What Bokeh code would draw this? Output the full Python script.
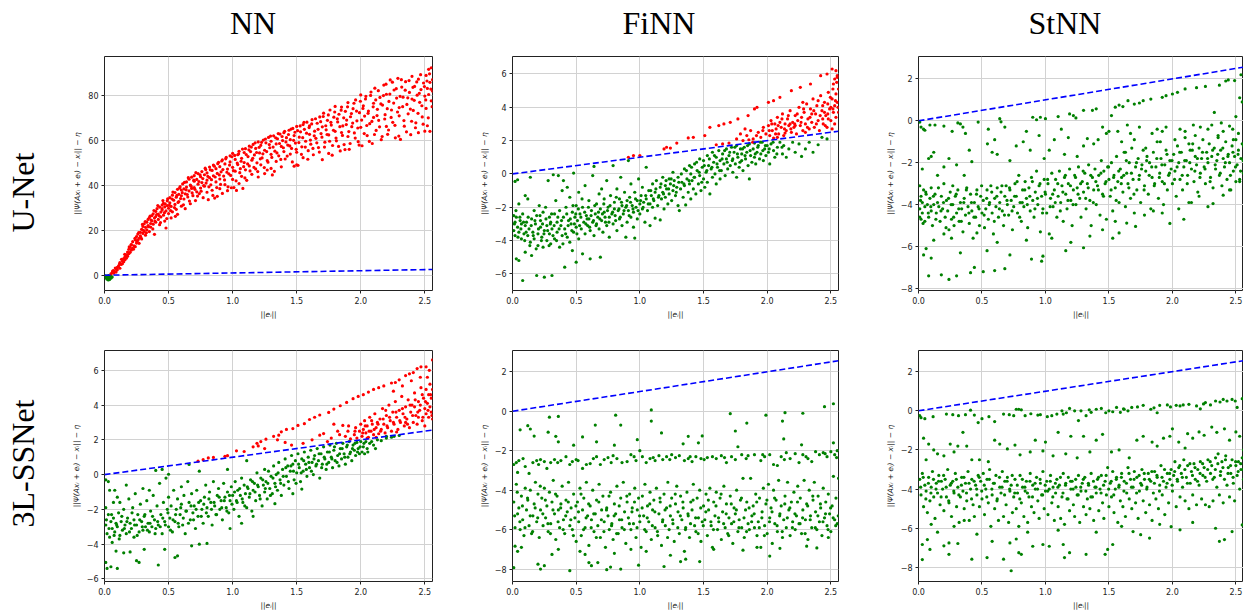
import math
from bokeh.plotting import figure
from bokeh.layouts import row, column
from bokeh.models import Range1d, Label, CustomJSTickFormatter
from bokeh.embed import file_html
from bokeh.resources import INLINE

# ---------------- data ----------------
col_titles = ["NN", "FiNN", "StNN"]
row_titles = ["U-Net", "3L-SSNet"]
x_ticks = [0.0, 0.5, 1.0, 1.5, 2.0, 2.5]
x_limits = (0.0, 2.56)
threshold_x = [0.0, 2.56]          # dashed reference line  y = ||e_i||
x_label = "||eᵢ||"
y_label = "||Ψ(Axᵢ + eᵢ) − xᵢ|| − η"

yticks_unet_nn = [0, 20, 40, 60, 80]
ylim_unet_nn = (-6.8, 97.3)
yticks_unet_finn = [-6, -4, -2, 0, 2, 4, 6]
ylim_unet_finn = (-7.0, 7.05)
yticks_unet_stnn = [-8, -6, -4, -2, 0, 2]
ylim_unet_stnn = (-8.1, 3.07)
yticks_ssnet_nn = [-6, -4, -2, 0, 2, 4, 6]
ylim_ssnet_nn = (-6.15, 7.14)
yticks_ssnet_finn = [-8, -6, -4, -2, 0, 2]
ylim_ssnet_finn = (-8.63, 3.08)
yticks_ssnet_stnn = [-8, -6, -4, -2, 0, 2]
ylim_ssnet_stnn = (-8.72, 3.08)

pts_unet_nn = [
(0.01,-0.3),(0.01,-1.2),(0.02,-0.7),(0.02,-1.8),(0.03,-1.5),(0.03,-0.2),(0.04,-1.0),(0.04,-1.9),(0.05,-0.5),(0.05,-1.3),(0.06,-0.8),(0.03,-2.1),
(0.05,0.6),(0.06,1.2),(0.07,0.9),(0.07,2.1),(0.08,1.6),(0.09,2.8),(0.09,1.4),(0.1,3.5),(0.1,2.4),
(0.11,4.2),(0.12,3.1),(0.12,5.6),(0.13,4.8),(0.14,6.3),(0.14,5.1),(0.15,7.4),(0.15,6.0),(0.16,8.2),(0.16,6.9),(0.17,9.1),(0.17,7.6),(0.18,8.4),(0.18,10.3),(0.19,9.6),(0.19,11.5),(0.2,10.2),(0.2,12.4),
(0.21,11.2),(0.21,13.6),(0.22,12.0),(0.22,14.9),(0.23,13.1),(0.24,15.8),(0.24,12.7),(0.25,14.3),(0.25,17.2),(0.26,15.6),(0.26,18.3),(0.27,16.4),(0.27,14.2),(0.28,19.1),(0.28,17.5),(0.29,20.4),(0.29,16.1),(0.3,18.6),(0.3,21.7),
(0.31,19.5),(0.31,22.9),(0.32,17.8),(0.32,21.3),(0.33,23.6),(0.33,20.2),(0.34,24.8),(0.34,22.1),(0.35,19.4),(0.35,25.6),(0.36,23.0),(0.36,21.4),(0.37,26.5),(0.37,24.2),(0.38,22.7),(0.38,27.3),(0.39,18.2),(0.39,25.4),(0.4,23.6),(0.4,28.4),(0.4,26.1),
(0.41,29.6),(0.42,24.8),(0.42,27.2),(0.43,30.3),(0.43,22.5),(0.44,28.1),(0.44,25.9),(0.45,31.2),(0.45,29.0),(0.46,26.7),(0.46,32.0),(0.47,24.1),(0.47,30.4),(0.48,21.0),(0.48,28.6),(0.49,33.1),(0.49,31.0),(0.5,27.4),(0.5,29.8),
(0.51,34.5),(0.51,32.2),(0.52,25.5),(0.52,30.6),(0.53,35.6),(0.53,28.2),(0.54,33.4),(0.55,36.8),(0.55,31.5),(0.56,29.3),(0.56,34.7),(0.57,38.2),(0.57,27.1),(0.58,36.0),(0.58,32.8),(0.59,39.4),(0.6,30.7),(0.6,35.3),(0.6,37.9),
(0.61,40.6),(0.62,33.9),(0.62,38.4),(0.63,29.6),(0.63,36.2),(0.64,41.5),(0.64,39.2),(0.65,34.8),(0.66,42.7),(0.66,37.5),(0.67,31.8),(0.67,40.1),(0.68,43.6),(0.68,38.6),(0.69,35.4),(0.7,41.8),(0.7,44.3),(0.7,39.0),
(0.71,33.2),(0.72,42.6),(0.72,37.1),(0.73,45.2),(0.73,40.5),(0.74,36.3),(0.75,43.8),(0.75,38.8),(0.76,46.1),(0.76,41.2),(0.77,34.5),(0.78,44.7),(0.78,39.6),(0.79,47.0),(0.8,42.3),(0.8,36.9),(0.8,45.5),
(0.81,33.6),(0.82,48.1),(0.82,43.4),(0.83,40.2),(0.84,46.6),(0.84,37.8),(0.85,49.0),(0.85,44.2),(0.86,34.3),(0.87,41.5),(0.87,47.4),(0.88,35.1),(0.88,45.3),(0.89,50.2),(0.9,42.8),(0.9,38.5),(0.9,48.3),
(0.91,46.0),(0.92,51.3),(0.92,36.4),(0.93,44.1),(0.94,49.5),(0.94,40.3),(0.95,52.4),(0.96,47.2),(0.96,37.6),(0.97,45.1),(0.98,53.1),(0.98,50.4),(0.99,38.9),(1.0,48.0),(1.0,54.2),(1.0,42.6),
(1.01,39.0),(1.02,51.5),(1.02,46.3),(1.03,37.7),(1.04,53.6),(1.04,49.2),(1.05,55.1),(1.05,40.8),(1.06,47.4),(1.07,52.0),(1.07,44.0),(1.08,38.6),(1.09,54.6),(1.09,50.1),(1.1,56.3),(1.1,46.9),
(1.11,42.2),(1.12,52.8),(1.13,57.4),(1.13,48.6),(1.14,55.0),(1.15,44.9),(1.15,51.2),(1.16,58.2),(1.17,53.5),(1.18,47.3),(1.18,56.4),(1.19,50.0),(1.2,59.3),(1.2,43.7),
(1.21,54.4),(1.22,57.8),(1.22,49.1),(1.23,52.2),(1.24,60.1),(1.25,45.2),(1.25,55.6),(1.26,58.9),(1.27,46.8),(1.27,51.0),(1.28,61.3),(1.29,56.7),(1.3,47.5),(1.3,53.8),(1.3,59.6),
(1.31,44.6),(1.32,62.0),(1.33,55.2),(1.34,58.4),(1.34,50.6),(1.35,60.7),(1.36,53.1),(1.37,62.8),(1.38,57.3),(1.38,48.2),(1.39,59.9),(1.4,55.0),(1.4,63.4),
(1.41,51.7),(1.42,61.2),(1.43,57.9),(1.44,64.5),(1.45,53.9),(1.45,60.3),(1.46,56.4),(1.47,65.3),(1.48,62.1),(1.48,48.5),(1.49,58.8),(1.5,49.1),(1.5,66.2),(1.5,54.7),
(1.51,48.9),(1.52,61.4),(1.53,63.8),(1.54,57.1),(1.55,67.0),(1.55,52.3),(1.56,64.9),(1.57,59.6),(1.58,68.1),(1.59,55.4),(1.6,62.7),(1.6,66.4),
(1.61,58.3),(1.62,69.2),(1.63,53.6),(1.64,64.1),(1.65,60.9),(1.66,67.6),(1.67,56.8),(1.68,70.4),(1.69,63.0),(1.7,51.4),(1.7,66.0),
(1.71,72.1),(1.72,59.2),(1.73,64.7),(1.74,68.9),(1.75,54.2),(1.75,62.4),(1.76,73.5),(1.77,66.8),(1.78,57.7),(1.79,70.3),(1.8,64.0),(1.8,75.1),
(1.81,59.8),(1.82,68.2),(1.83,71.6),(1.84,55.3),(1.85,63.5),(1.85,74.8),(1.86,66.4),(1.87,58.1),(1.88,72.9),(1.89,69.0),(1.9,61.7),(1.9,76.8),
(1.91,56.0),(1.92,70.5),(1.93,66.1),(1.94,74.1),(1.95,63.3),(1.96,78.0),(1.97,68.7),(1.98,59.4),(1.99,72.3),(2.0,80.2),(2.0,65.8),
(2.01,57.6),(2.02,75.4),(2.03,70.8),(2.04,79.6),(2.05,62.1),(2.06,73.0),(2.07,67.4),(2.08,81.5),(2.09,58.6),(2.1,76.5),(2.1,70.2),
(2.11,83.2),(2.12,64.4),(2.13,73.8),(2.14,68.9),(2.15,79.1),(2.16,60.3),(2.17,75.7),(2.18,84.6),(2.19,71.4),(2.2,66.2),(2.2,80.5),
(2.21,62.7),(2.22,77.3),(2.23,86.9),(2.24,73.5),(2.25,68.0),(2.26,82.4),(2.27,61.1),(2.28,78.8),(2.29,87.6),(2.3,74.6),(2.3,70.9),
(2.31,60.4),(2.32,83.7),(2.33,79.2),(2.34,66.3),(2.35,86.1),(2.36,76.0),(2.37,71.8),(2.38,81.3),(2.39,62.5),(2.4,78.4),(2.4,88.5),
(2.41,73.3),(2.42,84.0),(2.43,67.8),(2.44,80.1),(2.45,63.4),(2.45,87.2),(2.46,76.9),(2.47,82.6),(2.48,70.4),(2.49,85.5),(2.5,64.1),(2.5,79.7),
(2.51,88.9),(2.51,74.2),(2.52,83.1),(2.52,66.5),(2.53,91.6),(2.53,80.4),(2.54,85.8),(2.54,64.0),(2.55,77.6),(2.55,92.3),(2.56,81.9),(2.56,87.0),
]
pts_unet_nn_b = [
(0.063,1.8),(0.084,3.2),(0.117,5.0),(0.133,7.1),(0.158,9.3),(0.176,8.9),(0.193,12.6),(0.207,13.5),(0.226,11.6),(0.238,16.4),(0.253,15.1),(0.267,19.0),(0.284,16.8),(0.296,22.6),(0.304,20.0),(0.318,23.9),(0.327,18.9),(0.343,21.6),(0.356,26.3),(0.364,24.5),(0.377,20.6),(0.386,28.8),(0.394,24.0),(0.407,27.0),(0.416,31.0),(0.428,26.4),(0.437,23.4),(0.449,29.6),(0.456,33.2),(0.468,27.8),(0.474,31.7),(0.486,25.2),(0.493,34.0),
(0.507,31.1),(0.516,28.7),(0.527,33.9),(0.534,37.0),(0.546,30.1),(0.553,26.2),(0.565,35.5),(0.574,32.4),(0.586,38.8),(0.594,34.1),(0.607,36.7),(0.616,31.3),(0.624,41.3),(0.637,38.0),(0.646,35.9),(0.654,43.4),(0.663,33.0),(0.676,39.6),(0.684,36.6),(0.697,42.3),(0.706,38.2),(0.713,45.6),(0.726,35.2),(0.737,41.7),(0.746,44.6),(0.754,37.4),(0.767,43.0),(0.774,39.9),(0.786,47.6),(0.793,41.0),
(0.806,44.0),(0.815,39.3),(0.826,46.9),(0.835,42.5),(0.846,35.5),(0.857,48.5),(0.864,43.7),(0.876,39.0),(0.884,49.6),(0.896,44.6),(0.906,40.4),(0.915,50.8),(0.924,47.0),(0.937,42.4),(0.946,51.8),(0.955,45.8),(0.964,39.3),(0.976,49.0),(0.985,44.4),(0.994,52.7),(1.006,46.5),(1.016,53.3),(1.027,42.0),(1.036,49.9),(1.047,54.0),(1.056,45.6),(1.066,50.7),(1.077,56.1),(1.086,48.3),(1.096,43.3),
(1.106,53.7),(1.117,49.5),(1.127,55.8),(1.136,46.4),(1.146,57.0),(1.157,52.0),(1.166,48.0),(1.176,58.9),(1.187,54.6),(1.196,46.1),(1.207,56.9),(1.216,51.8),(1.226,59.1),(1.236,54.0),(1.247,47.9),(1.256,60.6),(1.266,55.0),(1.276,50.3),(1.286,58.1),(1.296,61.9),(1.306,52.4),(1.316,57.0),(1.326,46.2),(1.336,61.1),(1.346,54.4),(1.356,63.0),(1.366,58.6),(1.376,51.5),(1.386,61.7),(1.396,56.7),
(1.406,64.0),(1.416,59.3),(1.426,53.0),(1.436,62.6),(1.446,57.5),(1.456,65.0),(1.466,50.4),(1.476,60.0),(1.486,63.6),(1.496,56.0),(1.507,64.3),(1.517,59.0),(1.527,66.4),(1.537,53.8),(1.547,61.2),(1.557,68.0),(1.567,57.0),(1.577,63.2),(1.587,51.6),(1.597,65.7),(1.607,60.1),(1.617,67.3),(1.627,56.4),(1.637,62.0),(1.647,69.6),(1.657,58.9),(1.667,64.9),(1.677,54.8),(1.687,68.3),(1.697,61.4),
(1.707,70.6),(1.717,57.0),(1.727,66.5),(1.737,62.6),(1.747,71.3),(1.757,59.6),(1.767,68.0),(1.777,53.4),(1.787,64.5),(1.797,72.6),(1.807,61.0),(1.817,69.6),(1.827,57.3),(1.837,66.1),(1.847,73.4),(1.857,62.2),(1.867,70.0),(1.877,55.9),(1.887,67.0),(1.897,74.9),(1.907,63.9),(1.917,58.6),(1.927,71.9),(1.937,67.7),(1.947,76.5),(1.957,61.0),(1.967,73.0),(1.977,65.5),(1.987,57.9),(1.997,77.4),
(2.007,69.0),(2.017,74.2),(2.027,63.0),(2.037,78.4),(2.047,66.6),(2.057,72.0),(2.067,59.5),(2.077,80.0),(2.087,68.4),(2.097,74.9),(2.107,62.6),(2.117,78.0),(2.127,71.0),(2.137,82.1),(2.147,66.0),(2.157,76.2),(2.167,61.7),(2.177,79.9),(2.187,69.5),(2.197,85.0),(2.207,74.1),(2.217,64.6),(2.227,80.6),(2.237,70.2),(2.247,85.9),(2.257,76.6),(2.267,66.7),(2.277,83.0),(2.287,72.6),(2.297,61.9),
(2.307,79.6),(2.317,87.0),(2.327,75.0),(2.337,68.8),(2.347,82.3),(2.357,63.8),(2.367,78.9),(2.377,86.6),(2.387,73.9),(2.397,68.5),(2.407,83.6),(2.417,77.8),(2.427,65.6),(2.437,86.0),(2.447,72.0),(2.457,80.9),(2.467,89.2),(2.477,75.4),(2.487,67.2),(2.497,83.9),(2.507,78.0),(2.517,86.4),(2.527,70.0),(2.537,89.6),(2.547,82.8),(2.557,75.0),
]

pts_unet_finn = [
(0.01,-2.5),(0.01,-3.4),(0.02,-0.45),(0.02,-2.9),(0.02,-3.7),(0.03,-2.6),(0.03,-5.1),(0.04,-3.2),(0.04,-0.35),(0.05,-1.8),(0.05,-3.5),(0.05,-5.2),(0.06,-2.8),(0.07,-3.9),(0.07,-3.0),(0.08,-6.4),(0.08,-2.4),(0.09,-3.6),(0.1,-1.3),(0.1,-4.7),(0.1,-3.1),
(0.11,-2.9),(0.12,-3.7),(0.12,-1.5),(0.13,-3.3),(0.14,-0.2),(0.14,-4.1),(0.15,-2.7),(0.15,-4.9),(0.16,-3.5),(0.17,-2.2),(0.17,-3.9),(0.18,-3.0),(0.19,-6.1),(0.19,-2.5),(0.2,-3.6),(0.2,-4.3),(0.21,-1.9),(0.22,-3.2),(0.22,-2.8),(0.23,-3.8),(0.24,-4.4),(0.24,-2.3),(0.25,-6.2),(0.25,-3.4),(0.26,-2.0),(0.27,-3.1),(0.27,-4.0),(0.28,-0.4),(0.29,-2.6),(0.29,-3.6),(0.3,-4.2),(0.3,-2.9),
(0.31,-6.1),(0.31,-3.3),(0.32,-0.05),(0.33,-2.4),(0.33,-3.9),(0.34,-1.6),(0.35,-2.9),(0.35,-3.5),(0.36,-0.1),(0.37,-4.4),(0.37,-2.2),(0.38,-3.1),(0.39,-1.0),(0.39,-3.7),(0.4,-2.6),(0.4,-0.4),(0.41,-5.6),(0.41,-3.3),(0.42,-2.0),(0.43,-3.8),(0.43,-0.8),(0.44,-2.8),(0.45,-4.1),(0.45,-1.4),(0.46,-3.0),(0.47,-2.3),(0.47,-4.6),(0.48,0.05),(0.48,-3.5),(0.49,-2.6),(0.5,-5.3),(0.5,-3.2),(0.5,-1.9),
(0.51,-2.8),(0.52,-3.9),(0.52,-1.1),(0.53,-2.4),(0.54,-3.3),(0.55,-4.8),(0.55,-2.0),(0.56,-2.9),(0.57,-3.6),(0.57,-0.7),(0.58,-2.5),(0.59,-3.1),(0.6,-1.6),(0.6,-2.7),(0.61,-5.1),(0.61,-3.4),(0.62,-2.2),(0.63,-0.1),(0.63,-2.9),(0.64,0.45),(0.64,-3.7),(0.65,-2.4),(0.66,-1.8),(0.66,-3.0),(0.67,-2.6),(0.68,-3.3),(0.68,-1.2),(0.69,-5.0),(0.69,-2.1),(0.7,-2.8),(0.7,-0.9),
(0.71,-3.5),(0.72,-2.3),(0.72,-1.5),(0.73,-2.9),(0.74,-0.4),(0.74,-3.1),(0.75,-2.0),(0.76,-2.6),(0.76,-3.8),(0.77,-1.3),(0.78,-2.4),(0.79,0.5),(0.79,-3.0),(0.8,-2.1),(0.8,-1.7),(0.81,-2.8),(0.82,-3.4),(0.82,-0.9),(0.83,-2.2),(0.84,-1.5),(0.84,-2.7),(0.85,-0.2),(0.86,-3.1),(0.86,-1.9),(0.87,-2.4),(0.88,-1.1),(0.89,-3.8),(0.89,-2.0),(0.9,-1.6),(0.9,-2.9),
(0.91,0.8),(0.91,-2.2),(0.92,-1.4),(0.93,-2.6),(0.93,-0.6),(0.94,-1.9),(0.95,-2.3),(0.95,-3.2),(0.96,-3.85),(0.96,-1.1),(0.97,-2.0),(0.98,-1.6),(0.98,-2.7),(0.99,-0.3),(1.0,-1.8),(1.0,-2.4),(1.01,-1.3),(1.02,-2.1),(1.02,-0.8),(1.03,-1.7),(1.04,-2.9),(1.05,0.4),(1.05,-1.5),(1.06,-2.2),(1.07,-1.0),(1.08,-1.8),(1.08,-3.1),(1.09,-1.3),(1.1,-0.6),(1.1,-2.0),
(1.11,-1.6),(1.12,-2.66),(1.12,-1.1),(1.13,-0.4),(1.14,-1.9),(1.15,-1.3),(1.16,-2.76),(1.16,-0.8),(1.17,-1.5),(1.18,-0.2),(1.18,-1.1),(1.19,-2.1),(1.2,-0.7),(1.2,-1.4),(1.21,-0.9),(1.22,-1.8),(1.23,-0.3),(1.23,-1.2),(1.24,-0.6),(1.25,-1.6),(1.26,-1.0),(1.26,0.1),(1.27,-0.4),(1.28,-1.3),(1.29,-0.8),(1.3,-1.9),(1.3,-0.2),(1.31,-2.2),(1.32,-0.9),(1.33,-0.5),(1.34,-1.4),(1.35,0.3),(1.35,-0.7),(1.36,-1.86),(1.37,-0.3),(1.38,-1.1),(1.39,0.5),(1.39,-0.6),(1.4,-1.5),(1.4,0.0),
(1.41,-0.4),(1.42,-0.9),(1.43,0.6),(1.43,-0.2),(1.44,-1.2),(1.45,0.2),(1.46,-0.6),(1.47,0.9),(1.47,-0.1),(1.48,-1.0),(1.49,0.4),(1.5,-0.3),(1.5,0.8),(1.51,-0.8),(1.52,0.1),(1.53,1.1),(1.53,-0.5),(1.54,0.5),(1.55,-1.2),(1.56,0.3),(1.57,1.3),(1.57,-0.2),(1.58,0.7),(1.59,0.0),(1.6,1.0),(1.6,-0.6),(1.61,0.4),(1.62,1.4),(1.63,0.8),(1.63,-0.3),(1.64,0.2),(1.65,1.2),(1.66,0.6),(1.67,-0.1),(1.68,1.5),(1.68,0.9),(1.69,0.3),(1.7,1.1),
(1.71,0.5),(1.72,1.6),(1.73,0.1),(1.73,0.9),(1.74,1.3),(1.75,0.6),(1.76,1.7),(1.76,-0.2),(1.77,1.0),(1.78,0.4),(1.79,1.5),(1.8,0.8),(1.8,1.2),(1.81,0.2),(1.82,1.6),(1.83,0.9),(1.84,1.3),(1.85,0.5),(1.86,1.8),(1.86,-0.3),(1.87,1.1),(1.88,0.7),(1.89,1.5),(1.9,1.0),(1.9,1.85),
(1.91,0.6),(1.92,1.3),(1.93,1.7),(1.94,0.9),(1.95,1.2),(1.96,1.9),(1.97,0.8),(1.98,1.5),(1.99,1.1),(2.0,1.7),(2.01,1.3),(2.02,0.6),(2.03,1.8),(2.05,1.4),(2.06,1.0),(2.08,1.6),(2.1,1.9),(2.12,1.2),(2.13,1.7),(2.15,1.0),(2.17,1.5),(2.2,1.9),(2.22,1.3),(2.25,1.8),(2.27,1.05),(2.3,1.5),(2.33,1.9),(2.36,1.3),(2.4,1.75),(2.43,2.2),(2.47,2.1),
(0.91,1.0),(0.95,1.1),(1.0,1.1),(1.19,1.5),(1.21,1.6),(1.24,1.55),(1.29,1.85),(1.38,2.16),(1.42,2.2),(1.51,2.3),(1.55,2.8),(1.62,2.9),(1.66,3.0),(1.71,3.1),(1.77,3.3),(1.85,3.5),(1.9,3.9),(1.92,4.0),(2.01,4.3),(2.05,4.4),(2.1,4.6),(2.19,5.0),(2.26,5.2),(2.34,5.4),(2.42,5.9),(2.47,6.0),(2.51,6.3),(2.54,6.2),(2.55,5.8),
(1.6,1.75),(1.65,1.8),(1.7,1.85),(1.76,2.1),(1.79,2.4),(1.81,2.0),(1.84,2.3),(1.87,2.6),(1.89,2.1),(1.93,2.5),(1.95,2.2),(1.97,2.8),(1.99,2.4),
(2.01,2.9),(2.02,2.3),(2.03,3.2),(2.04,2.6),(2.05,2.15),(2.06,3.0),(2.07,2.7),(2.08,3.4),(2.09,2.4),(2.1,3.1),(2.11,2.8),(2.12,3.6),(2.13,2.3),(2.14,3.0),(2.15,2.6),(2.16,3.3),(2.17,2.9),(2.18,3.8),(2.19,2.5),(2.2,3.1),(2.21,2.8),(2.22,3.5),(2.23,2.4),(2.24,3.2),(2.25,4.0),(2.26,2.9),(2.27,3.4),(2.28,2.6),(2.29,3.7),(2.3,3.0),(2.31,4.2),(2.32,3.3),(2.33,2.7),(2.34,3.9),(2.35,3.1),(2.36,4.5),(2.37,2.8),(2.38,3.6),(2.39,4.1),(2.4,3.2),(2.41,2.6),(2.42,4.7),(2.43,3.8),(2.44,3.0),(2.45,4.3),(2.46,3.5),(2.47,2.8),(2.48,4.9),(2.49,3.9),(2.5,3.2),(2.51,4.5),(2.51,2.7),(2.52,3.7),(2.52,5.4),(2.53,4.1),(2.53,3.0),(2.54,4.8),(2.54,3.4),(2.55,5.9),(2.55,4.3),(2.56,3.7),(2.56,5.1),(2.5,4.0),(2.45,3.7),(2.4,4.4),(2.35,3.6),(2.3,2.5),(2.28,4.3),(2.22,2.9),(2.18,3.0),(2.14,2.45),(2.08,2.2),(2.48,3.3),(2.53,5.7),
]
pts_unet_finn_b = [
(0.015,-3.0),(0.027,-2.2),(0.043,-3.8),(0.058,-2.6),(0.066,-3.3),(0.087,-2.9),(0.096,-4.0),(0.107,-3.5),(0.123,-2.6),(0.136,-4.3),(0.147,-3.1),(0.163,-3.7),(0.176,-2.8),(0.186,-4.5),(0.204,-3.3),(0.216,-2.5),(0.227,-4.0),(0.236,-3.0),(0.247,-3.6),(0.263,-2.7),(0.276,-3.4),(0.287,-4.3),(0.297,-3.0),(0.307,-2.4),(0.318,-3.7),(0.327,-3.1),(0.346,-4.0),(0.356,-2.6),(0.366,-3.3),(0.385,-2.8),(0.396,-4.2),
(0.417,-3.6),(0.426,-2.4),(0.437,-3.1),(0.454,-2.7),(0.466,-3.4),(0.475,-1.9),(0.486,-3.0),(0.497,-2.4),(0.506,-3.6),(0.517,-2.1),(0.527,-3.1),(0.537,-2.6),(0.546,-1.5),(0.567,-2.3),(0.576,-3.0),(0.586,-2.7),(0.596,-2.0),(0.606,-3.2),(0.617,-2.5),(0.636,-2.8),(0.646,-1.9),(0.656,-3.1),(0.675,-2.3),(0.686,-2.7),(0.706,-2.4),(0.717,-1.8),(0.727,-2.6),(0.746,-2.2),(0.757,-2.9),(0.766,-1.9),(0.786,-2.3),
(0.806,-2.5),(0.815,-1.4),(0.836,-2.1),(0.846,-2.6),(0.856,-1.7),(0.876,-2.2),(0.896,-1.9),(0.916,-2.5),(0.927,-1.7),(0.946,-2.1),(0.966,-1.5),(0.986,-2.2),(1.006,-1.6),(1.026,-2.0),(1.046,-1.3),(1.066,-1.8),(1.086,-1.0),(1.106,-1.5),(1.126,-0.9),(1.146,-1.4),(1.166,-0.6),(1.186,-1.2),(1.206,-0.4),(1.226,-0.9),(1.246,-0.3),(1.266,-0.7),(1.286,-1.1),(1.306,-0.5),(1.326,0.0),(1.346,-0.6),
(1.366,0.2),(1.386,-0.4),(1.406,0.4),(1.426,-0.2),(1.446,0.7),(1.466,0.1),(1.486,-0.5),(1.506,0.5),(1.526,0.2),(1.546,0.9),(1.566,0.4),(1.586,1.1),(1.606,0.6),(1.626,0.2),(1.646,0.9),(1.666,1.4),(1.686,0.7),(1.706,1.3),(1.726,0.8),(1.746,1.6),(1.766,1.2),(1.786,0.7),(1.806,1.5),(1.826,1.1),(1.846,1.7),(1.866,1.4),(1.886,1.9),(1.906,1.2),(1.926,1.6),(1.946,1.9),(1.966,1.4),(1.986,1.7),(2.016,1.5),(2.046,1.9),(2.076,1.2),(2.116,1.6),
(2.016,2.6),(2.036,3.0),(2.066,2.4),(2.086,2.9),(2.116,3.3),(2.136,2.7),(2.166,3.5),(2.186,2.7),(2.216,3.0),(2.236,3.6),(2.266,3.1),(2.286,3.9),(2.316,2.8),(2.336,3.4),(2.366,3.8),(2.386,3.0),(2.416,3.5),(2.436,4.1),(2.456,2.9),(2.476,3.6),(2.496,4.6),(2.516,3.9),(2.536,4.4),(2.556,4.0),(2.516,5.1),(2.546,5.5),(2.476,4.2),(2.436,3.3),(1.856,2.05),(1.916,2.3),(1.966,2.6),(1.826,2.7),
]

pts_unet_stnn = [
(0.01,-0.06),(0.02,-0.3),(0.04,-0.4),(0.05,-0.45),(0.09,-0.2),(0.13,-0.2),(0.2,-0.25),(0.31,-0.1),(0.33,-0.15),(0.35,-0.3),(0.37,-0.6),(0.47,-0.06),(0.64,0.1),(0.65,-0.05),(0.9,0.17),(0.93,0.05),(0.96,0.17),(1.0,0.1),(1.1,0.2),(1.19,0.33),(1.22,0.25),(1.24,0.14),(1.3,0.5),(1.37,0.5),(1.4,0.57),(1.52,0.25),(1.55,0.65),(1.58,0.75),(1.61,0.68),(1.65,0.96),(1.7,0.8),(1.74,0.85),(1.77,0.96),(1.83,1.04),(1.92,1.12),(1.95,1.2),(2.0,1.28),(2.04,1.36),(2.1,1.52),(2.19,1.58),(2.26,1.64),(2.37,1.7),(2.42,1.9),(2.44,1.95),(2.49,1.92),(2.54,2.2),(2.53,1.1),(2.55,0.9),(2.5,0.2),(2.33,0.4),
(0.03,-2.3),(0.08,-1.8),(0.1,-1.7),(0.12,-1.5),(0.15,-2.6),(0.2,-2.2),(0.24,-1.8),(0.3,-2.1),(0.36,-2.6),(0.4,-1.4),(0.42,-1.95),(0.55,-0.4),(0.58,-1.5),(0.6,-0.9),(0.62,-1.6),(0.68,-0.3),(0.72,-1.9),(0.77,-1.2),(0.85,-0.5),(0.88,-1.4),(0.95,-0.7),(0.99,-1.8),(1.03,-1.4),(1.07,-0.9),(1.15,-1.6),(1.18,-0.8),(1.25,-1.7),(1.3,-1.2),(1.33,-0.85),(1.38,-1.1),(1.45,-0.3),(1.48,-0.6),(1.5,-0.5),(1.57,-0.5),(1.6,-1.0),(1.63,-1.5),(1.67,-0.6),(1.7,-0.9),(1.74,-0.3),(1.79,-1.3),(1.84,-0.6),(1.88,-0.4),(1.92,-0.5),(1.95,-0.3),(2.02,-0.9),(2.06,-0.4),(2.1,-0.5),(2.13,-1.1),(2.18,-0.7),(2.22,-0.3),(2.28,-0.4),(2.31,-0.2),(2.36,-0.8),(2.4,-0.5),(2.45,-0.25),(2.48,-0.9),(2.52,-0.6),(2.56,-1.2),
(0.01,-3.1),(0.01,-4.2),(0.02,-3.6),(0.02,-4.7),(0.03,-3.9),(0.03,-4.4),(0.04,-3.3),(0.05,-4.8),(0.05,-4.1),(0.06,-3.5),(0.07,-4.0),(0.08,-4.6),(0.09,-3.7),(0.1,-4.3),(0.1,-3.2),(0.11,-5.0),(0.12,-4.0),(0.13,-3.5),(0.14,-4.4),(0.15,-3.9),(0.16,-4.1),(0.17,-4.8),(0.18,-3.6),(0.19,-4.2),(0.2,-3.0),(0.21,-4.6),(0.22,-3.8),(0.23,-4.3),(0.24,-5.2),(0.25,-3.4),
(0.26,-4.7),(0.27,-3.1),(0.27,-4.0),(0.28,-5.0),(0.29,-3.6),(0.3,-4.4),(0.31,-3.3),(0.32,-4.8),(0.33,-3.9),(0.34,-4.2),(0.35,-5.3),(0.36,-3.7),(0.37,-4.5),(0.38,-3.2),(0.39,-4.1),(0.4,-4.9),(0.41,-3.5),(0.42,-4.3),(0.43,-5.6),(0.44,-3.9),(0.45,-4.6),(0.46,-3.3),(0.47,-4.1),(0.48,-5.0),(0.49,-3.6),(0.5,-4.4),
(0.51,-3.8),(0.52,-5.1),(0.53,-4.2),(0.54,-3.3),(0.55,-4.7),(0.56,-3.9),(0.57,-3.1),(0.58,-4.4),(0.59,-5.4),(0.6,-3.7),(0.61,-4.1),(0.62,-3.2),(0.63,-4.6),(0.64,-3.9),(0.65,-3.4),(0.66,-4.3),(0.67,-5.0),(0.68,-3.6),(0.69,-3.1),(0.7,-4.0),(0.71,-4.5),(0.72,-3.3),(0.73,-3.8),(0.74,-5.2),(0.75,-4.1),
(0.76,-3.0),(0.77,-3.6),(0.78,-4.4),(0.79,-2.6),(0.8,-3.9),(0.81,-4.8),(0.82,-3.3),(0.83,-4.1),(0.84,-2.9),(0.85,-3.7),(0.86,-5.1),(0.87,-3.2),(0.88,-4.3),(0.89,-2.7),(0.9,-3.8),(0.91,-4.6),(0.92,-3.4),(0.93,-2.4),(0.94,-4.0),(0.95,-3.1),(0.96,-5.3),(0.97,-3.6),(0.98,-4.2),(0.99,-2.8),(1.0,-3.5),
(1.01,-4.4),(1.02,-3.0),(1.03,-5.4),(1.04,-3.7),(1.05,-2.5),(1.06,-4.1),(1.07,-3.3),(1.08,-2.8),(1.09,-4.6),(1.1,-3.6),(1.11,-2.4),(1.12,-3.9),(1.13,-3.1),(1.14,-4.8),(1.15,-2.7),(1.16,-3.5),(1.17,-4.2),(1.18,-3.0),(1.19,-2.3),(1.2,-3.8),(1.21,-5.0),(1.22,-3.3),(1.23,-2.6),(1.24,-4.0),(1.25,-3.2),
(1.26,-2.2),(1.27,-3.7),(1.28,-4.6),(1.29,-2.9),(1.3,-3.4),(1.31,-2.5),(1.32,-4.2),(1.33,-3.0),(1.34,-2.1),(1.35,-3.8),(1.36,-5.0),(1.37,-2.7),(1.38,-3.3),(1.39,-2.3),(1.4,-4.0),(1.41,-3.1),(1.42,-2.6),(1.43,-4.5),(1.44,-1.9),(1.45,-3.5),(1.46,-2.4),(1.47,-3.0),(1.48,-4.7),(1.49,-2.2),(1.5,-2.8),
(1.51,-3.6),(1.52,-2.0),(1.53,-4.3),(1.54,-2.6),(1.55,-3.2),(1.56,-1.7),(1.57,-2.9),(1.58,-3.9),(1.59,-2.3),(1.6,-2.7),(1.61,-3.4),(1.62,-1.5),(1.63,-4.1),(1.64,-2.5),(1.65,-3.0),(1.66,-2.0),(1.67,-3.7),(1.68,-1.3),(1.69,-2.8),(1.7,-4.4),(1.71,-2.2),(1.72,-3.3),(1.73,-1.8),(1.74,-2.6),(1.75,-3.9),
(1.76,-2.1),(1.77,-1.4),(1.78,-3.1),(1.79,-2.4),(1.8,-1.7),(1.81,-3.5),(1.82,-2.0),(1.83,-4.2),(1.84,-2.7),(1.85,-1.5),(1.86,-3.0),(1.87,-2.2),(1.88,-1.0),(1.89,-3.7),(1.9,-2.5),(1.91,-1.8),(1.92,-2.9),(1.93,-4.0),(1.94,-2.1),(1.95,-1.4),(1.96,-3.3),(1.97,-2.6),(1.98,-1.9),(1.99,-2.3),(2.0,-3.0),
(2.01,-1.6),(2.02,-2.4),(2.03,-3.6),(2.04,-1.2),(2.05,-2.0),(2.06,-2.8),(2.07,-1.5),(2.08,-3.3),(2.09,-2.2),(2.1,-0.8),(2.11,-1.9),(2.12,-2.6),(2.13,-3.9),(2.14,-1.4),(2.15,-2.3),(2.16,-1.1),(2.17,-2.9),(2.18,-1.7),(2.19,-2.1),(2.2,-3.4),(2.21,-1.3),(2.22,-2.5),(2.23,-1.8),(2.24,-0.9),(2.25,-2.2),
(2.26,-3.0),(2.27,-1.5),(2.28,-2.0),(2.29,-1.1),(2.3,-2.7),(2.31,-1.7),(2.32,-3.2),(2.33,-1.3),(2.34,-2.3),(2.35,-1.9),(2.36,-0.7),(2.37,-2.6),(2.38,-1.4),(2.39,-3.1),(2.4,-1.8),(2.41,-2.2),(2.42,-1.0),(2.43,-2.8),(2.44,-1.6),(2.45,-2.0),(2.46,-3.3),(2.47,-1.2),(2.48,-2.4),(2.49,-1.7),(2.5,-0.9),(2.51,-2.1),(2.52,-1.4),(2.53,-2.9),(2.54,-1.8),(2.55,-1.1),(2.56,-2.5),
(0.01,-4.6),(0.04,-6.4),(0.06,-6.1),(0.08,-7.4),(0.1,-6.55),(0.12,-5.7),(0.18,-7.35),(0.2,-5.4),(0.24,-7.57),(0.26,-5.6),(0.3,-7.4),(0.33,-6.3),(0.41,-7.25),(0.44,-7.0),(0.46,-5.35),(0.51,-7.2),(0.54,-6.2),(0.6,-7.15),(0.62,-5.8),(0.68,-7.06),(0.72,-6.4),(0.85,-5.7),(0.89,-6.6),(0.97,-6.7),(0.98,-6.46),(1.05,-5.6),(1.16,-6.2),(1.2,-5.8),(1.3,-6.06),(1.35,-5.5),(1.45,-5.2),(1.53,-5.6),(1.55,-4.8),(1.58,-5.35),(1.64,-4.88),(1.71,-5.04),(1.78,-4.5),(1.85,-4.3),(1.92,-4.4),(1.98,-4.9),(2.05,-4.2),(2.09,-4.7),(2.15,-3.9),(2.21,-3.6),(2.28,-4.1),(2.32,-3.95),(2.4,-3.55),(2.45,-3.3),(2.5,-2.9),(2.53,-2.8),
]
pts_unet_stnn_b = [
(0.016,-3.8),(0.036,-4.9),(0.057,-3.4),(0.077,-4.4),(0.097,-4.1),(0.117,-3.6),(0.137,-4.7),(0.157,-3.2),(0.177,-4.3),(0.197,-3.9),(0.217,-5.1),(0.237,-3.7),(0.257,-4.0),(0.277,-4.6),(0.297,-3.5),(0.317,-4.2),(0.337,-4.8),(0.357,-3.9),(0.377,-3.3),(0.397,-4.4),(0.417,-3.9),(0.437,-4.6),(0.457,-3.5),(0.477,-4.2),(0.497,-3.1),(0.517,-4.5),(0.537,-3.7),(0.557,-4.0),(0.577,-3.4),(0.597,-4.8),
(0.617,-3.6),(0.637,-4.2),(0.657,-3.1),(0.677,-4.5),(0.697,-3.8),(0.717,-3.2),(0.737,-4.3),(0.757,-3.6),(0.777,-2.9),(0.797,-4.6),(0.817,-3.9),(0.837,-3.3),(0.857,-4.0),(0.877,-3.6),(0.897,-2.9),(0.917,-4.2),(0.937,-3.7),(0.957,-3.0),(0.977,-4.4),(0.997,-3.4),(1.017,-2.8),(1.037,-4.1),(1.057,-3.5),(1.077,-3.9),(1.097,-3.0),(1.117,-4.3),(1.137,-3.4),(1.157,-2.6),(1.177,-3.8),(1.197,-3.1),
(1.217,-4.0),(1.237,-2.7),(1.257,-3.5),(1.277,-3.0),(1.297,-2.4),(1.317,-3.7),(1.337,-3.2),(1.357,-2.6),(1.377,-3.9),(1.397,-2.9),(1.417,-3.3),(1.437,-2.5),(1.457,-3.6),(1.477,-2.9),(1.497,-2.2),(1.517,-3.3),(1.537,-2.7),(1.557,-3.8),(1.577,-2.4),(1.597,-3.0),(1.617,-2.6),(1.637,-1.9),(1.657,-3.2),(1.677,-2.5),(1.697,-3.5),(1.717,-2.0),(1.737,-2.8),(1.757,-2.3),(1.777,-3.3),(1.797,-1.9),
(1.817,-2.6),(1.837,-2.2),(1.857,-3.1),(1.877,-1.8),(1.897,-2.7),(1.917,-2.1),(1.937,-3.0),(1.957,-1.6),(1.977,-2.5),(1.997,-1.9),(2.017,-2.8),(2.037,-2.2),(2.057,-1.5),(2.077,-2.6),(2.097,-1.9),(2.117,-3.0),(2.137,-2.0),(2.157,-1.4),(2.177,-2.4),(2.197,-1.8),(2.217,-2.7),(2.237,-1.5),(2.257,-2.3),(2.277,-1.8),(2.297,-2.9),(2.317,-1.4),(2.337,-2.1),(2.357,-1.6),(2.377,-2.5),(2.397,-1.3),
(2.417,-2.0),(2.437,-1.7),(2.457,-2.6),(2.477,-1.5),(2.497,-2.2),(2.517,-1.6),(2.537,-2.4),(2.557,-1.9),
(0.265,-0.5),(0.543,-1.1),(0.825,-1.0),(1.125,-0.4),(1.415,-0.9),(1.645,-0.2),(1.905,-1.0),(2.165,-0.2),(2.385,-0.1),(2.475,-0.4),
]

pts_ssnet_nn = [
(0.01,-0.3),(0.01,-1.9),(0.01,-2.9),(0.01,-5.05),(0.02,-3.4),(0.02,-5.4),(0.03,-0.4),(0.03,-2.3),(0.04,-3.6),(0.04,-0.9),(0.05,-5.3),(0.05,-2.7),(0.06,-3.1),(0.06,-3.9),(0.07,-1.6),(0.07,-2.5),(0.08,-3.3),(0.08,-0.9),(0.09,-4.4),(0.09,-2.8),(0.1,-5.4),(0.1,-3.0),(0.1,-1.3),
(0.11,-2.2),(0.12,-3.5),(0.12,-1.6),(0.13,-2.7),(0.14,-3.2),(0.15,-4.5),(0.15,-2.0),(0.16,-2.9),(0.17,-0.6),(0.17,-3.4),(0.18,-2.5),(0.19,-1.4),(0.2,-4.45),(0.2,-2.8),(0.21,-3.1),(0.22,-1.9),(0.23,-2.6),(0.23,-3.6),(0.24,-1.1),(0.25,-4.95),(0.25,-2.9),(0.26,-2.3),(0.27,-5.05),(0.27,-3.3),(0.28,-1.7),(0.29,-2.7),(0.3,-3.2),(0.3,-0.8),
(0.31,-4.3),(0.31,-2.4),(0.32,-3.0),(0.33,-1.5),(0.34,-2.8),(0.35,-3.3),(0.35,-0.9),(0.36,-2.1),(0.37,-3.0),(0.38,-1.2),(0.39,-2.6),(0.4,0.24),(0.4,-3.1),(0.41,-1.8),(0.42,-5.2),(0.42,-2.9),(0.43,-0.5),(0.44,-2.3),(0.45,0.3),(0.45,-3.4),(0.46,-1.6),(0.47,-4.3),(0.47,-2.7),(0.48,-0.2),(0.49,-2.0),(0.5,0.02),(0.5,-3.0),(0.5,-1.3),
(0.51,-2.5),(0.52,-1.8),(0.53,-3.3),(0.54,-0.9),(0.55,-4.77),(0.55,-2.7),(0.56,-2.0),(0.57,-4.67),(0.57,-1.4),(0.58,-3.0),(0.59,-2.3),(0.6,-0.7),(0.6,-1.7),(0.61,-2.9),(0.62,-1.2),(0.63,-3.4),(0.64,-2.1),(0.65,-0.4),(0.66,0.58),(0.66,-1.6),(0.67,-2.6),(0.68,-4.1),(0.68,-1.1),(0.69,-2.2),(0.7,-1.8),(0.71,-3.1),(0.72,-0.9),(0.73,-2.4),(0.74,0.2),(0.74,-4.0),(0.75,-1.5),
(0.76,-2.0),(0.77,-2.8),(0.78,-1.3),(0.79,-0.6),(0.8,-3.96),(0.8,-1.9),(0.81,-2.4),(0.82,-1.0),(0.83,-1.6),(0.84,-2.9),(0.85,-0.4),(0.86,-1.8),(0.87,-2.3),(0.88,-1.2),(0.89,-0.8),(0.9,-2.0),(0.91,-1.5),(0.92,-2.6),(0.93,-0.5),(0.94,-1.3),(0.95,-1.9),(0.96,0.3),(0.96,-1.0),(0.97,-2.2),(0.98,-3.1),(0.98,-1.5),(0.99,-0.7),(1.0,-1.2),
(1.01,-2.0),(1.02,-0.4),(1.03,-1.5),(1.04,-0.9),(1.05,-2.4),(1.06,-1.2),(1.07,-2.8),(1.07,-0.2),(1.08,-1.6),(1.09,-0.6),(1.1,-1.1),(1.11,0.8),(1.11,-1.9),(1.12,-0.8),(1.13,-1.3),(1.14,-0.3),(1.15,-2.1),(1.16,-2.4),(1.16,-0.9),(1.17,-0.5),(1.18,-1.5),(1.19,0.1),(1.2,-0.7),(1.21,-1.2),(1.22,-0.2),(1.23,-1.8),(1.24,-0.6),(1.25,0.3),(1.25,-1.0),
(1.26,-0.4),(1.27,-1.4),(1.28,0.2),(1.29,-0.8),(1.3,-0.1),(1.31,-1.1),(1.32,0.5),(1.33,-1.67),(1.33,-0.5),(1.34,0.0),(1.35,-0.9),(1.36,0.7),(1.37,-0.3),(1.38,-1.2),(1.39,0.3),(1.4,-0.6),(1.41,0.9),(1.42,-0.1),(1.43,0.5),(1.44,-0.8),(1.45,0.2),(1.46,1.1),(1.47,-1.1),(1.47,0.6),(1.48,-0.3),(1.49,0.8),(1.5,0.1),
(1.51,1.2),(1.52,0.4),(1.53,-0.4),(1.54,-0.83),(1.54,0.9),(1.55,0.2),(1.56,1.3),(1.57,0.6),(1.58,-0.1),(1.59,1.0),(1.6,0.4),(1.61,1.4),(1.62,0.7),(1.63,0.0),(1.64,1.1),(1.65,0.5),(1.66,1.5),(1.67,0.8),(1.68,-0.2),(1.69,1.2),(1.7,0.6),(1.71,1.6),(1.72,0.9),(1.73,0.3),(1.74,1.3),(1.75,0.7),
(1.76,1.7),(1.77,1.0),(1.78,0.4),(1.79,1.4),(1.8,0.8),(1.81,1.8),(1.82,1.1),(1.83,0.5),(1.84,1.5),(1.85,0.9),(1.86,1.8),(1.87,1.2),(1.88,0.6),(1.89,1.6),(1.9,1.0),(1.91,1.9),(1.92,1.3),(1.93,0.8),(1.94,1.7),(1.95,1.4),(1.96,1.1),(1.97,1.85),(1.98,1.5),(1.99,1.2),(2.0,1.9),
(2.01,1.3),(2.02,1.6),(2.03,1.2),(2.04,1.9),(2.05,1.5),(2.07,1.8),(2.1,1.7),(2.13,2.0),(2.16,1.95),(2.2,2.1),(2.24,2.15),(2.26,2.2),(2.3,2.25),
(0.73,0.77),(0.77,0.86),(0.81,0.96),(0.85,0.99),(0.94,1.05),(0.96,1.09),(1.03,1.37),(1.09,1.33),(1.16,1.6),(1.19,1.8),(1.22,1.9),(1.26,2.04),(1.32,2.2),(1.36,2.27),(1.38,2.46),(1.42,2.6),(1.47,2.65),(1.51,2.83),(1.56,2.93),(1.6,3.17),(1.64,3.3),(1.68,3.43),(1.75,3.58),(1.79,3.77),(1.84,3.96),(1.89,4.15),(1.94,4.37),(2.02,4.6),(2.1,4.9),(2.18,5.1),(2.24,5.27),(2.3,5.45),(2.35,5.7),(2.41,5.87),(2.47,6.2),(2.51,6.2),(2.56,6.6),(2.44,6.1),(2.38,5.8),(2.27,5.3),(2.14,5.0),(2.06,4.75),(1.98,4.5),
(1.2,1.65),(1.25,1.5),(1.35,2.0),(1.41,1.85),(1.46,1.7),(1.55,1.8),(1.62,2.0),(1.68,2.27),(1.71,2.36),(1.74,1.9),(1.77,2.1),(1.79,2.9),(1.82,2.5),(1.86,2.83),(1.88,2.2),(1.9,2.5),(1.92,2.05),
(1.95,2.3),(1.96,2.7),(1.97,2.1),(1.99,2.5),(2.0,2.9),(2.01,2.2),(2.02,2.6),(2.03,3.1),(2.04,2.4),(2.05,2.8),(2.06,2.15),(2.07,3.3),(2.08,2.5),(2.09,2.9),(2.1,2.3),(2.11,3.5),(2.12,2.7),(2.13,3.0),(2.14,2.35),(2.15,3.2),(2.16,2.6),(2.17,3.8),(2.18,2.9),(2.19,2.4),(2.2,3.4),(2.21,2.7),(2.22,4.0),(2.23,3.1),(2.24,2.5),(2.25,3.6),(2.26,2.9),(2.27,4.2),(2.28,3.3),(2.29,2.6),(2.3,3.7),(2.31,3.0),(2.32,4.5),(2.33,3.5),(2.34,2.8),(2.35,3.9),(2.36,3.2),(2.37,4.3),(2.38,2.7),(2.39,3.6),(2.4,4.0),(2.41,3.0),(2.42,4.7),(2.43,3.4),(2.44,2.9),(2.45,4.2),(2.46,3.7),(2.47,5.0),(2.48,3.1),(2.49,4.4),(2.5,3.8),(2.5,2.8),(2.51,4.9),(2.51,3.5),(2.52,4.1),(2.52,5.6),(2.53,3.3),(2.53,4.6),(2.54,3.9),(2.54,5.2),(2.55,3.6),(2.55,4.4),(2.56,4.9),(2.56,3.2),(2.2,2.2),(2.12,2.15),(2.05,2.1),(2.45,3.3),(2.48,4.6),(2.42,3.9),(2.35,3.0),(2.28,2.45),
]
pts_ssnet_nn_b = [
(0.015,-2.6),(0.035,-3.1),(0.055,-2.3),(0.075,-3.5),(0.095,-2.9),(0.115,-3.7),(0.135,-2.4),(0.155,-3.1),(0.175,-2.7),(0.195,-3.3),(0.215,-2.2),(0.235,-2.9),(0.255,-3.5),(0.275,-2.6),(0.295,-3.0),(0.315,-2.3),(0.335,-3.2),(0.355,-2.8),(0.375,-2.4),(0.395,-3.4),(0.415,-2.7),(0.435,-3.0),(0.455,-2.5),(0.475,-2.9),(0.495,-2.2),(0.515,-3.2),(0.535,-2.6),(0.555,-2.3),(0.575,-2.8),(0.595,-1.9),
(0.615,-2.5),(0.635,-2.1),(0.655,-2.8),(0.675,-1.8),(0.695,-2.6),(0.715,-2.0),(0.735,-1.6),(0.755,-2.4),(0.775,-1.7),(0.795,-2.2),(0.815,-1.4),(0.835,-2.0),(0.855,-1.6),(0.875,-2.3),(0.895,-1.3),(0.915,-1.9),(0.935,-1.5),(0.955,-2.1),(0.975,-1.2),(0.995,-1.7),(1.015,-1.0),(1.035,-1.6),(1.055,-0.8),(1.075,-1.4),(1.095,-1.8),(1.115,-0.7),(1.135,-1.1),(1.155,-0.4),(1.175,-1.0),(1.195,-0.6),
(1.215,-1.4),(1.235,-0.3),(1.255,-0.8),(1.275,-0.5),(1.295,-1.2),(1.315,-0.2),(1.335,-0.7),(1.355,0.1),(1.375,-0.5),(1.395,-0.1),(1.415,0.4),(1.435,-0.4),(1.455,0.5),(1.475,0.2),(1.495,-0.5),(1.515,0.6),(1.535,0.1),(1.555,0.8),(1.575,0.3),(1.595,0.7),(1.615,0.2),(1.635,0.9),(1.655,0.6),(1.675,1.2),(1.695,0.4),(1.715,1.0),(1.735,0.6),(1.755,1.3),(1.775,0.9),(1.795,1.6),
(1.815,0.7),(1.835,1.2),(1.855,1.5),(1.875,1.0),(1.895,1.7),(1.915,1.2),(1.935,1.5),(1.955,1.8),(1.975,1.3),(1.995,1.6),(2.025,1.8),(2.055,1.3),(2.085,1.9),(2.115,1.5),
(2.015,2.4),(2.035,2.8),(2.065,2.5),(2.085,3.1),(2.105,2.6),(2.135,2.9),(2.155,2.5),(2.175,3.2),(2.205,2.8),(2.225,3.3),(2.255,3.0),(2.275,3.6),(2.305,3.1),(2.325,3.8),(2.345,3.3),(2.365,2.9),(2.385,4.0),(2.405,3.4),(2.425,4.3),(2.445,3.6),(2.465,4.0),(2.485,3.3),(2.505,4.2),(2.525,3.7),(2.545,4.6),(2.555,3.4),(2.465,5.6),(2.535,6.0),(2.395,5.4),(2.325,5.1),(2.255,4.8),(2.195,3.7),(1.835,2.3),(1.905,2.8),(1.955,2.5),
]

pts_ssnet_finn = [
(0.06,-0.94),(0.12,-0.73),(0.14,-0.9),(0.17,-1.26),(0.28,-1.06),(0.29,-0.3),(0.34,-1.27),(0.36,-0.26),(0.36,-1.55),(0.48,-1.72),(0.55,-1.3),(0.65,-0.7),(0.66,-1.55),(0.81,-0.2),(0.8,-1.72),(0.85,-0.7),(0.98,-1.44),(1.09,0.07),(1.09,-0.5),(1.17,-1.1),(1.34,-1.65),(1.38,-1.27),(1.46,-1.6),(1.49,-1.25),(1.71,-0.12),(1.75,-1.0),(1.84,-0.6),(1.99,-0.2),(2.12,-0.5),(2.13,-1.4),(2.14,-0.07),(2.28,-0.1),(2.45,0.23),(2.52,0.38),(2.27,-1.7),(2.52,-1.6),(1.77,-1.8),(1.0,-2.0),
(0.01,-2.7),(0.03,-2.6),(0.04,-3.1),(0.05,-2.5),(0.1,-2.8),(0.13,-3.15),(0.16,-2.6),(0.19,-2.5),(0.22,-2.45),(0.25,-2.55),(0.27,-2.9),(0.3,-2.6),(0.33,-2.45),(0.38,-2.5),(0.42,-2.3),(0.45,-2.7),(0.47,-2.55),(0.5,-2.45),(0.55,-2.9),(0.58,-2.7),(0.61,-2.65),(0.66,-2.3),(0.69,-2.7),(0.72,-2.45),(0.75,-2.35),(0.79,-2.25),(0.82,-2.4),(0.86,-2.6),(0.9,-2.55),(0.93,-2.2),(0.97,-2.5),(1.02,-2.3),(1.05,-2.6),(1.08,-2.4),(1.12,-2.5),(1.15,-2.25),(1.18,-2.45),(1.21,-2.3),(1.25,-2.2),(1.28,-2.35),(1.31,-2.25),(1.35,-2.5),(1.38,-2.4),(1.41,-2.55),(1.44,-2.3),(1.48,-2.4),(1.53,-2.35),(1.57,-2.3),(1.6,-2.4),(1.64,-2.25),(1.68,-2.6),(1.72,-2.3),(1.75,-2.45),(1.8,-2.2),(1.85,-2.25),(1.9,-2.2),(1.95,-2.5),(1.98,-2.3),(2.02,-2.2),(2.05,-2.7),(2.08,-2.75),(2.11,-2.3),(2.15,-2.1),(2.18,-2.4),(2.22,-2.15),(2.25,-2.6),(2.28,-2.2),(2.32,-2.4),(2.35,-2.55),(2.38,-2.05),(2.41,-2.2),(2.44,-2.1),(2.47,-2.3),(2.5,-2.05),(2.53,-2.2),(2.55,-2.0),
(0.01,-4.6),(0.02,-5.9),(0.03,-3.7),(0.04,-5.2),(0.05,-4.9),(0.06,-6.0),(0.07,-4.3),(0.08,-5.5),(0.09,-6.3),(0.1,-3.9),(0.11,-5.0),(0.12,-4.5),(0.13,-5.8),(0.14,-4.0),(0.15,-6.2),(0.16,-5.3),(0.17,-4.7),(0.18,-3.6),(0.19,-5.6),(0.2,-4.2),(0.21,-6.4),(0.22,-5.0),(0.23,-4.4),(0.24,-5.8),(0.25,-3.9),
(0.26,-5.4),(0.27,-4.8),(0.28,-6.1),(0.29,-4.1),(0.3,-5.7),(0.31,-4.6),(0.32,-3.5),(0.33,-5.2),(0.34,-6.5),(0.35,-4.3),(0.36,-5.0),(0.37,-5.9),(0.38,-4.7),(0.39,-3.8),(0.4,-5.5),(0.41,-6.2),(0.42,-4.5),(0.43,-5.1),(0.44,-3.6),(0.45,-5.8),(0.46,-4.9),(0.47,-6.0),(0.48,-4.2),(0.49,-5.4),(0.5,-6.6),
(0.51,-4.6),(0.52,-5.6),(0.53,-3.9),(0.54,-6.3),(0.55,-5.0),(0.56,-4.4),(0.57,-5.9),(0.58,-3.6),(0.59,-5.3),(0.6,-6.8),(0.61,-4.8),(0.62,-5.5),(0.63,-4.0),(0.64,-6.1),(0.65,-5.2),(0.66,-4.5),(0.67,-5.8),(0.68,-3.7),(0.69,-6.4),(0.7,-5.0),(0.71,-4.3),(0.72,-5.6),(0.73,-6.9),(0.74,-4.9),(0.75,-5.3),
(0.76,-6.0),(0.77,-4.1),(0.78,-5.7),(0.79,-6.5),(0.8,-4.7),(0.81,-5.2),(0.82,-3.8),(0.83,-6.2),(0.84,-5.5),(0.85,-4.4),(0.86,-5.9),(0.87,-3.6),(0.88,-5.1),(0.89,-6.7),(0.9,-4.6),(0.91,-5.4),(0.92,-4.2),(0.93,-6.0),(0.94,-4.9),(0.95,-5.7),(0.96,-3.9),(0.97,-6.4),(0.98,-5.0),(0.99,-4.4),(1.0,-5.6),
(1.01,-6.9),(1.02,-4.3),(1.03,-5.3),(1.04,-3.7),(1.05,-6.1),(1.06,-4.8),(1.07,-5.6),(1.08,-4.1),(1.09,-6.5),(1.1,-5.0),(1.11,-4.5),(1.12,-5.9),(1.13,-3.9),(1.14,-6.3),(1.15,-5.2),(1.16,-4.6),(1.17,-6.8),(1.18,-5.5),(1.19,-4.2),(1.2,-5.8),(1.21,-4.9),(1.22,-3.6),(1.23,-6.0),(1.24,-5.3),(1.25,-4.4),
(1.26,-5.7),(1.27,-6.6),(1.28,-4.7),(1.29,-3.8),(1.3,-5.1),(1.31,-6.2),(1.32,-4.3),(1.33,-5.5),(1.34,-4.9),(1.35,-7.1),(1.36,-5.9),(1.37,-4.1),(1.38,-5.3),(1.39,-6.4),(1.4,-4.6),(1.41,-5.0),(1.42,-3.7),(1.43,-5.8),(1.44,-6.1),(1.45,-4.4),(1.46,-5.4),(1.47,-4.0),(1.48,-6.6),(1.49,-5.6),(1.5,-4.8),
(1.51,-5.5),(1.52,-4.2),(1.53,-6.3),(1.54,-5.0),(1.55,-3.9),(1.56,-5.8),(1.57,-6.9),(1.58,-4.6),(1.59,-5.3),(1.6,-4.1),(1.61,-6.0),(1.62,-5.6),(1.63,-4.4),(1.64,-6.5),(1.65,-5.1),(1.66,-3.8),(1.67,-5.9),(1.68,-4.7),(1.69,-6.2),(1.7,-5.4),(1.71,-4.3),(1.72,-5.7),(1.73,-6.7),(1.74,-4.9),(1.75,-5.2),
(1.76,-4.0),(1.77,-6.1),(1.78,-5.5),(1.79,-4.5),(1.8,-5.9),(1.81,-3.4),(1.82,-6.4),(1.83,-5.0),(1.84,-4.6),(1.85,-5.7),(1.86,-6.0),(1.87,-3.4),(1.88,-5.3),(1.89,-4.8),(1.9,-5.9),(1.91,-4.2),(1.92,-6.3),(1.93,-5.6),(1.94,-4.4),(1.95,-6.9),(1.96,-5.1),(1.97,-3.9),(1.98,-5.8),(1.99,-4.7),(2.0,-6.2),
(2.01,-3.7),(2.02,-5.4),(2.03,-4.9),(2.04,-6.7),(2.05,-4.0),(2.06,-5.7),(2.07,-4.5),(2.08,-6.1),(2.09,-3.5),(2.1,-5.2),(2.11,-4.8),(2.12,-6.4),(2.13,-5.5),(2.14,-4.3),(2.15,-5.9),(2.16,-3.6),(2.17,-5.0),(2.18,-6.3),(2.19,-4.6),(2.2,-5.6),(2.21,-4.1),(2.22,-6.0),(2.23,-5.3),(2.24,-3.8),(2.25,-5.7),
(2.26,-4.4),(2.27,-6.2),(2.28,-5.0),(2.29,-3.5),(2.3,-5.5),(2.31,-4.7),(2.32,-6.5),(2.33,-4.0),(2.34,-5.3),(2.35,-5.9),(2.36,-4.5),(2.37,-3.6),(2.38,-5.1),(2.39,-6.0),(2.4,-4.3),(2.41,-5.6),(2.42,-4.9),(2.43,-6.3),(2.44,-3.9),(2.45,-5.4),(2.46,-4.6),(2.47,-5.8),(2.48,-4.2),(2.49,-5.2),(2.5,-6.1),(2.51,-4.8),(2.52,-3.3),(2.53,-5.5),(2.54,-4.4),(2.55,-5.7),(2.56,-3.4),
(0.01,-7.93),(0.02,-6.84),(0.04,-7.1),(0.07,-6.9),(0.2,-7.75),(0.22,-8.0),(0.25,-7.83),(0.31,-7.26),(0.36,-7.0),(0.45,-8.08),(0.53,-7.1),(0.57,-7.26),(0.6,-7.67),(0.62,-7.83),(0.67,-7.67),(0.74,-8.03),(0.77,-7.9),(0.8,-7.2),(0.85,-8.0),(0.93,-7.0),(0.99,-7.8),(1.05,-7.1),(1.19,-7.87),(1.24,-7.3),(1.32,-7.62),(1.36,-7.5),(1.47,-7.62),(1.58,-7.0),(1.81,-7.04),(1.92,-6.9),(2.02,-7.34),(2.1,-6.95),(2.31,-6.84),(2.39,-6.93),(2.48,-6.4),
]
pts_ssnet_finn_b = [
(0.017,-5.3),(0.037,-4.1),(0.058,-5.6),(0.078,-4.8),(0.098,-5.9),(0.118,-4.4),(0.139,-5.3),(0.158,-6.1),(0.178,-4.9),(0.198,-5.4),(0.218,-3.8),(0.238,-5.2),(0.258,-4.5),(0.278,-5.7),(0.298,-6.2),(0.318,-5.0),(0.338,-4.2),(0.358,-5.6),(0.378,-4.9),(0.398,-6.0),(0.418,-5.3),(0.438,-4.6),(0.458,-5.5),(0.478,-6.3),(0.498,-4.8),(0.518,-5.1),(0.538,-4.2),(0.558,-6.0),(0.578,-5.4),(0.598,-4.7),
(0.618,-5.9),(0.638,-5.2),(0.658,-6.4),(0.678,-4.6),(0.698,-5.5),(0.718,-6.1),(0.738,-5.0),(0.758,-4.3),(0.778,-5.8),(0.798,-5.3),(0.818,-6.2),(0.838,-4.8),(0.858,-5.5),(0.878,-6.0),(0.898,-4.3),(0.918,-5.7),(0.938,-5.1),(0.958,-4.6),(0.978,-5.9),(0.998,-5.3),(1.018,-4.9),(1.038,-6.0),(1.058,-5.4),(1.078,-4.7),(1.098,-5.8),(1.118,-5.1),(1.138,-6.1),(1.158,-4.4),(1.178,-5.6),(1.198,-5.0),
(1.218,-6.4),(1.238,-4.8),(1.258,-5.5),(1.278,-4.2),(1.298,-5.9),(1.318,-5.3),(1.338,-4.6),(1.358,-6.0),(1.378,-5.2),(1.398,-5.7),(1.418,-4.5),(1.438,-5.4),(1.458,-6.2),(1.478,-4.9),(1.498,-5.8),(1.518,-5.1),(1.538,-4.5),(1.558,-5.6),(1.578,-6.0),(1.598,-4.8),(1.618,-5.4),(1.638,-4.2),(1.658,-5.7),(1.678,-5.2),(1.698,-6.3),(1.718,-4.7),(1.738,-5.6),(1.758,-5.0),(1.778,-5.9),(1.798,-4.4),
(1.818,-5.4),(1.838,-6.1),(1.858,-4.9),(1.878,-5.6),(1.898,-5.2),(1.918,-4.6),(1.938,-5.9),(1.958,-5.4),(1.978,-6.3),(1.998,-4.5),(2.018,-5.6),(2.038,-5.1),(2.058,-4.4),(2.078,-5.8),(2.098,-5.3),(2.118,-6.1),(2.138,-4.7),(2.158,-5.4),(2.178,-4.9),(2.198,-5.9),(2.218,-5.2),(2.238,-4.6),(2.258,-5.7),(2.278,-5.4),(2.298,-6.2),(2.318,-4.8),(2.338,-5.5),(2.358,-4.3),(2.378,-5.9),(2.398,-5.3),
(2.418,-4.7),(2.438,-5.6),(2.458,-5.2),(2.478,-6.0),(2.498,-4.9),(2.518,-5.4),(2.538,-5.8),(2.558,-5.3),
(0.083,-2.4),(0.205,-2.7),(0.355,-2.6),(0.515,-2.5),(0.635,-2.4),(0.775,-2.6),(0.955,-2.3),(1.105,-2.35),(1.235,-2.45),(1.395,-2.3),(1.505,-2.45),(1.665,-2.35),(1.835,-2.4),(1.965,-2.2),(2.135,-2.45),(2.305,-2.3),(2.455,-2.15),(2.545,-2.35),
]

pts_ssnet_stnn = [
(0.01,-0.25),(0.02,-0.35),(0.05,-0.4),(0.22,-0.17),(0.27,-0.2),(0.37,-0.2),(0.41,0.03),(0.44,-0.22),(0.47,-0.6),(0.5,-0.4),(0.6,-0.55),(0.67,-0.17),(0.75,-0.25),(0.77,0.08),(0.79,0.08),(0.81,0.05),(0.84,-0.25),(0.94,-0.22),(0.96,-0.2),(1.05,-0.25),(1.09,-0.17),(1.13,0.0),(1.14,-0.17),(1.19,0.12),(1.23,0.0),(1.26,-0.5),(1.28,0.0),(1.32,-0.25),(1.36,-0.08),(1.4,0.08),(1.44,0.12),(1.5,0.0),(1.53,-0.05),(1.56,0.17),(1.59,-0.08),(1.62,0.08),(1.65,0.0),(1.68,0.17),(1.77,0.28),(1.83,0.08),(1.88,-0.1),(1.9,0.28),(1.96,0.3),(2.03,0.28),(2.06,0.25),(2.13,0.33),(2.19,0.25),(2.22,0.1),(2.26,0.42),(2.3,0.3),(2.34,0.5),(2.4,0.58),(2.43,0.5),(2.47,0.58),(2.51,0.17),(2.55,0.62),
(0.04,-1.4),(0.06,-2.5),(0.08,-1.7),(0.12,-2.0),(0.15,-2.2),(0.2,-2.3),(0.25,-1.7),(0.28,-2.1),(0.31,-1.8),(0.35,-1.1),(0.38,-1.8),(0.42,-2.5),(0.48,-2.5),(0.55,-2.6),(0.6,-1.5),(0.64,-1.7),(0.7,-1.95),(0.76,-1.75),(0.8,-2.25),(0.88,-2.1),(0.92,-1.5),(0.98,-2.05),(1.0,-1.6),(1.06,-2.3),(1.1,-1.1),(1.16,-2.2),(1.2,-1.3),(1.25,-2.4),(1.3,-1.3),(1.35,-2.1),(1.4,-1.5),(1.45,-1.2),(1.52,-2.1),(1.58,-2.0),(1.66,-2.4),(1.72,-1.5),(1.77,-1.3),(1.84,-1.6),(1.88,-1.8),(1.93,-1.4),(1.98,-1.3),(2.0,-0.92),(2.05,-1.6),(2.1,-1.9),(2.12,-1.17),(2.16,-1.4),(2.21,-1.08),(2.25,-1.25),(2.31,-0.83),(2.35,-1.1),(2.41,-0.92),(2.45,-1.5),(2.5,-1.08),(2.53,-1.3),(2.56,-2.0),
(0.01,-3.5),(0.02,-4.3),(0.03,-3.2),(0.04,-4.9),(0.05,-3.8),(0.06,-4.1),(0.07,-5.2),(0.08,-3.4),(0.09,-4.6),(0.1,-3.9),(0.11,-3.1),(0.12,-4.4),(0.13,-5.5),(0.14,-3.7),(0.15,-4.2),(0.16,-3.3),(0.17,-4.8),(0.18,-3.6),(0.19,-4.0),(0.2,-5.1),(0.21,-3.5),(0.22,-4.4),(0.23,-3.0),(0.24,-4.7),(0.25,-3.8),
(0.26,-5.4),(0.27,-3.6),(0.28,-4.2),(0.29,-3.2),(0.3,-4.9),(0.31,-3.9),(0.32,-5.7),(0.33,-4.4),(0.34,-3.4),(0.35,-4.1),(0.36,-5.0),(0.37,-3.7),(0.38,-4.6),(0.39,-3.1),(0.4,-5.6),(0.41,-4.0),(0.42,-3.5),(0.43,-4.8),(0.44,-5.4),(0.45,-3.8),(0.46,-4.3),(0.47,-3.3),(0.48,-4.9),(0.49,-3.6),(0.5,-4.5),
(0.51,-3.2),(0.52,-5.3),(0.53,-4.0),(0.54,-3.5),(0.55,-4.7),(0.56,-3.0),(0.57,-5.9),(0.58,-4.3),(0.59,-3.7),(0.6,-5.0),(0.61,-3.3),(0.62,-4.5),(0.63,-5.6),(0.64,-3.9),(0.65,-4.2),(0.66,-3.1),(0.67,-5.4),(0.68,-3.6),(0.69,-4.8),(0.7,-3.4),(0.71,-5.7),(0.72,-4.1),(0.73,-3.8),(0.74,-5.2),(0.75,-4.4),
(0.76,-3.5),(0.77,-5.0),(0.78,-4.2),(0.79,-5.9),(0.8,-3.3),(0.81,-4.7),(0.82,-3.9),(0.83,-5.4),(0.84,-4.1),(0.85,-3.6),(0.86,-5.7),(0.87,-4.4),(0.88,-3.2),(0.89,-4.9),(0.9,-3.8),(0.91,-5.2),(0.92,-4.0),(0.93,-3.4),(0.94,-4.6),(0.95,-5.5),(0.96,-3.7),(0.97,-4.3),(0.98,-3.1),(0.99,-5.0),(1.0,-4.1),
(1.01,-3.6),(1.02,-5.3),(1.03,-4.0),(1.04,-3.3),(1.05,-4.7),(1.06,-3.9),(1.07,-5.6),(1.08,-4.2),(1.09,-3.5),(1.1,-4.9),(1.11,-3.8),(1.12,-5.5),(1.13,-4.4),(1.14,-3.2),(1.15,-5.8),(1.16,-3.7),(1.17,-4.5),(1.18,-3.4),(1.19,-5.1),(1.2,-4.0),(1.21,-3.6),(1.22,-4.8),(1.23,-5.4),(1.24,-3.9),(1.25,-4.3),
(1.26,-3.3),(1.27,-5.7),(1.28,-4.1),(1.29,-3.7),(1.3,-4.9),(1.31,-3.4),(1.32,-5.3),(1.33,-4.5),(1.34,-3.8),(1.35,-5.0),(1.36,-3.2),(1.37,-4.4),(1.38,-5.6),(1.39,-3.9),(1.4,-4.2),(1.41,-3.5),(1.42,-5.1),(1.43,-4.0),(1.44,-3.3),(1.45,-4.7),(1.46,-5.5),(1.47,-3.6),(1.48,-4.3),(1.49,-2.9),(1.5,-4.9),
(1.51,-3.7),(1.52,-4.4),(1.53,-3.1),(1.54,-5.2),(1.55,-4.0),(1.56,-3.4),(1.57,-5.7),(1.58,-3.8),(1.59,-4.6),(1.6,-3.2),(1.61,-4.9),(1.62,-3.6),(1.63,-5.4),(1.64,-4.2),(1.65,-2.9),(1.66,-4.5),(1.67,-3.5),(1.68,-5.0),(1.69,-3.9),(1.7,-3.1),(1.71,-4.7),(1.72,-3.4),(1.73,-5.5),(1.74,-4.1),(1.75,-3.7),
(1.76,-3.0),(1.77,-4.6),(1.78,-3.5),(1.79,-5.2),(1.8,-3.9),(1.81,-3.2),(1.82,-4.8),(1.83,-3.6),(1.84,-5.6),(1.85,-4.2),(1.86,-3.1),(1.87,-4.5),(1.88,-3.4),(1.89,-5.0),(1.9,-3.8),(1.91,-2.8),(1.92,-4.3),(1.93,-3.6),(1.94,-5.3),(1.95,-3.9),(1.96,-3.2),(1.97,-4.7),(1.98,-3.5),(1.99,-3.0),(2.0,-4.1),
(2.01,-3.3),(2.02,-2.6),(2.03,-4.9),(2.04,-3.6),(2.05,-2.9),(2.06,-4.4),(2.07,-3.2),(2.08,-3.9),(2.09,-2.5),(2.1,-4.6),(2.11,-3.4),(2.12,-2.8),(2.13,-5.0),(2.14,-3.7),(2.15,-3.1),(2.16,-4.3),(2.17,-2.7),(2.18,-3.5),(2.19,-4.8),(2.2,-3.0),(2.21,-3.8),(2.22,-2.6),(2.23,-4.5),(2.24,-3.3),(2.25,-2.9),
(2.26,-4.8),(2.27,-3.6),(2.28,-2.5),(2.29,-4.9),(2.3,-3.2),(2.31,-2.8),(2.32,-4.6),(2.33,-3.4),(2.34,-2.4),(2.35,-3.9),(2.36,-2.2),(2.37,-4.3),(2.38,-3.1),(2.39,-2.6),(2.4,-4.7),(2.41,-3.5),(2.42,-2.3),(2.43,-3.8),(2.44,-2.9),(2.45,-4.4),(2.46,-3.2),(2.47,-2.5),(2.48,-3.7),(2.49,-4.6),(2.5,-2.8),(2.51,-3.3),(2.52,-2.6),(2.53,-4.0),(2.54,-3.0),(2.55,-2.4),(2.56,-3.5),
(0.03,-7.6),(0.03,-6.83),(0.07,-6.58),(0.09,-7.08),(0.1,-5.8),(0.15,-6.2),(0.2,-6.9),(0.24,-6.75),(0.24,-7.33),(0.28,-5.9),(0.31,-6.78),(0.36,-5.6),(0.42,-7.58),(0.46,-6.3),(0.54,-7.5),(0.58,-6.67),(0.67,-7.58),(0.72,-6.75),(0.73,-8.17),(0.77,-6.55),(0.79,-7.25),(0.81,-7.33),(0.86,-6.2),(0.9,-6.92),(0.98,-6.83),(1.03,-6.92),(1.1,-6.1),(1.14,-6.83),(1.15,-7.5),(1.19,-7.25),(1.32,-7.33),(1.4,-6.2),(1.47,-7.33),(1.49,-7.08),(1.53,-6.83),(1.6,-5.9),(1.69,-6.17),(1.75,-6.33),(1.82,-6.5),(1.9,-5.8),(1.99,-5.92),(2.06,-6.08),(2.16,-5.7),(2.34,-6.0),(2.37,-6.67),(2.41,-6.58),(2.47,-6.17),(2.55,-5.83),
]
pts_ssnet_stnn_b = [
(0.017,-3.9),(0.037,-3.4),(0.058,-4.5),(0.078,-3.7),(0.098,-4.2),(0.118,-3.5),(0.138,-4.0),(0.158,-3.6),(0.178,-4.4),(0.198,-3.3),(0.218,-3.9),(0.238,-4.6),(0.258,-3.7),(0.278,-4.1),(0.298,-3.5),(0.318,-4.3),(0.338,-3.8),(0.358,-3.4),(0.378,-4.2),(0.398,-3.7),(0.418,-4.5),(0.438,-3.6),(0.458,-4.0),(0.478,-3.4),(0.498,-4.1),(0.518,-3.8),(0.538,-4.4),(0.558,-3.5),(0.578,-4.0),(0.598,-3.7),
(0.618,-4.6),(0.638,-3.4),(0.658,-3.9),(0.678,-4.3),(0.698,-3.6),(0.718,-4.0),(0.738,-3.3),(0.758,-4.2),(0.778,-3.8),(0.798,-4.5),(0.818,-3.5),(0.838,-3.9),(0.858,-4.2),(0.878,-3.6),(0.898,-4.4),(0.918,-3.7),(0.938,-4.0),(0.958,-3.5),(0.978,-4.3),(0.998,-3.8),(1.018,-4.1),(1.038,-3.6),(1.058,-4.4),(1.078,-3.7),(1.098,-3.9),(1.118,-3.4),(1.138,-4.2),(1.158,-3.8),(1.178,-4.5),(1.198,-3.6),
(1.218,-4.0),(1.238,-3.5),(1.258,-4.3),(1.278,-3.9),(1.298,-3.5),(1.318,-4.1),(1.338,-3.7),(1.358,-4.4),(1.378,-3.6),(1.398,-3.9),(1.418,-3.4),(1.438,-4.2),(1.458,-3.8),(1.478,-3.3),(1.498,-4.0),(1.518,-3.6),(1.538,-4.3),(1.558,-3.5),(1.578,-3.9),(1.598,-3.4),(1.618,-4.1),(1.638,-3.7),(1.658,-3.2),(1.678,-3.9),(1.698,-3.5),(1.718,-4.2),(1.738,-3.3),(1.758,-3.8),(1.778,-3.2),(1.798,-4.0),
(1.818,-3.5),(1.838,-3.1),(1.858,-3.7),(1.878,-3.3),(1.898,-4.1),(1.918,-3.4),(1.938,-3.0),(1.958,-3.7),(1.978,-3.2),(1.998,-3.8),(2.018,-3.1),(2.038,-3.5),(2.058,-2.8),(2.078,-3.4),(2.098,-3.0),(2.118,-3.7),(2.138,-2.7),(2.158,-3.3),(2.178,-2.9),(2.198,-3.6),(2.218,-3.2),(2.238,-2.7),(2.258,-3.4),(2.278,-3.0),(2.298,-2.6),(2.318,-3.5),(2.338,-3.0),(2.358,-2.7),(2.378,-3.3),(2.398,-2.9),
(2.418,-2.5),(2.438,-3.2),(2.458,-2.8),(2.478,-3.4),(2.498,-2.6),(2.518,-3.1),(2.538,-2.7),(2.558,-3.0),
(0.115,-0.3),(0.315,-0.25),(0.555,-0.3),(0.715,-0.2),(0.885,-0.15),(1.015,-0.3),(1.165,-0.1),(1.345,0.05),(1.475,-0.1),(1.615,0.1),(1.725,0.2),(1.855,0.15),(1.985,0.2),(2.085,0.3),(2.245,0.35),(2.375,0.45),(2.495,0.5),
]

panels = [
    [(pts_unet_nn + pts_unet_nn_b, yticks_unet_nn, ylim_unet_nn),
     (pts_unet_finn + pts_unet_finn_b, yticks_unet_finn, ylim_unet_finn),
     (pts_unet_stnn + pts_unet_stnn_b, yticks_unet_stnn, ylim_unet_stnn)],
    [(pts_ssnet_nn + pts_ssnet_nn_b, yticks_ssnet_nn, ylim_ssnet_nn),
     (pts_ssnet_finn + pts_ssnet_finn_b, yticks_ssnet_finn, ylim_ssnet_finn),
     (pts_ssnet_stnn + pts_ssnet_stnn_b, yticks_ssnet_stnn, ylim_ssnet_stnn)],
]

# ---------------- layout / style ----------------
PAGE_W = 1245
HEADER_H = 44
LABEL_W = 48
col_geom = [(388, 56, 4), (406, 76, 4), (401, 76, 0)]      # width, left border, right border
row_geom = [(277, 12, 30), (291, 29, 26)]                  # height, top border, bottom border
title_centers = [252.5, 658.5, 1064.5]                     # heading centres (px from page left)
title_y = 22                                               # label anchor, px above header bottom
row_label_pos = [(22, 58), (22, 54)]                       # label anchor x, text start from strip bottom
TICK_FONT = "DejaVu Sans"
SERIF = "Liberation Serif"
HEAD_SIZE = "32px"

xfmt_code = "return tick.toFixed(1);"
yfmt_code = "return (tick < 0 ? '\u2212' : '') + Math.abs(tick).toFixed(0);"


def blank(width, height):
    p = figure(width=width, height=height, min_border_left=0, min_border_right=0,
               min_border_top=0, min_border_bottom=0,
               x_range=Range1d(0, width), y_range=Range1d(0, height),
               x_axis_type=None, y_axis_type=None,
               output_backend="svg", toolbar_location=None, tools="", title=None)
    p.outline_line_color = None
    p.background_fill_color = "white"
    p.border_fill_color = "white"
    p.grid.visible = False
    return p


def make_panel(r, c):
    pts, yticks, ylim = panels[r][c]
    w, bl, br = col_geom[c]
    h, bt, bb = row_geom[r]
    p = figure(width=w, height=h, min_border_left=bl, min_border_right=br,
               min_border_top=bt, min_border_bottom=bb,
               x_range=Range1d(*x_limits), y_range=Range1d(*ylim),
               output_backend="svg", toolbar_location=None, tools="", title=None)
    p.background_fill_color = "white"
    p.border_fill_color = "white"
    p.outline_line_color = "#222222"
    p.outline_line_width = 1
    p.outline_line_alpha = 1.0

    p.xaxis.ticker = x_ticks
    p.yaxis.ticker = yticks
    p.xaxis.formatter = CustomJSTickFormatter(code=xfmt_code)
    p.yaxis.formatter = CustomJSTickFormatter(code=yfmt_code)
    p.xaxis.axis_label = x_label
    p.yaxis.axis_label = y_label
    for ax in (p.xaxis[0], p.yaxis[0]):
        ax.axis_line_color = None
        ax.major_tick_line_color = "#222222"
        ax.major_tick_out = 3
        ax.major_tick_in = 0
        ax.minor_tick_line_color = None
        ax.major_label_text_font = TICK_FONT
        ax.major_label_text_font_size = "8px"
        ax.major_label_text_color = "#222222"
        ax.major_label_standoff = 3
        ax.axis_label_text_font = TICK_FONT
        ax.axis_label_text_font_size = "7.5px"
        ax.axis_label_text_font_style = "italic"
        ax.axis_label_text_color = "#222222"
        ax.axis_label_standoff = 3
    p.grid.grid_line_color = "#d2d2d2"
    p.grid.grid_line_width = 1

    above = [(x, y) for x, y in pts if y > x]
    below = [(x, y) for x, y in pts if y <= x]
    if below:
        p.scatter([q[0] for q in below], [q[1] for q in below], size=3.2,
                  fill_color="#008000", line_color=None)
    if above:
        p.scatter([q[0] for q in above], [q[1] for q in above], size=3.2,
                  fill_color="#ff0000", line_color=None)
    p.line(threshold_x, threshold_x, line_color="#0000ff", line_width=1.6, line_dash="6 3")
    return p


header = blank(PAGE_W, HEADER_H)
for c in range(3):
    header.add_layout(Label(x=title_centers[c], y=title_y, x_units="screen", y_units="screen",
                            text=col_titles[c], text_align="center", text_baseline="alphabetic",
                            text_font=SERIF, text_font_size=HEAD_SIZE, text_color="black"))

grid_rows = []
for r in range(2):
    strip = blank(LABEL_W, row_geom[r][0])
    lx, ly = row_label_pos[r]
    strip.add_layout(Label(x=lx, y=ly, x_units="screen", y_units="screen", angle=math.pi / 2,
                           text=row_titles[r], text_align="left", text_baseline="alphabetic",
                           text_font=SERIF, text_font_size=HEAD_SIZE, text_color="black"))
    grid_rows.append(row(strip, *[make_panel(r, c) for c in range(3)]))

layout = column(header, *grid_rows)

open("out.html", "w").write(file_html(layout, INLINE))
